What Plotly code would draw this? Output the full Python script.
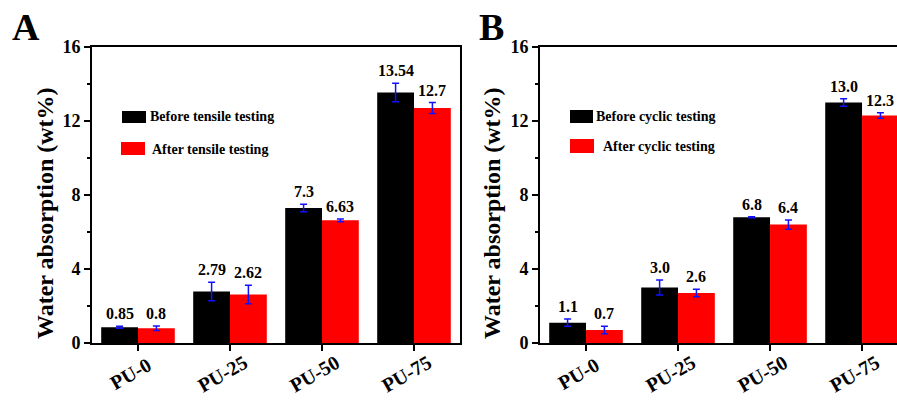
import plotly.graph_objects as go

# ---------------- data ----------------
categories = ["PU-0", "PU-25", "PU-50", "PU-75"]

a_before = [0.85, 2.79, 7.3, 13.54]
a_before_err = [0.05, 0.5, 0.2, 0.5]
a_after = [0.8, 2.62, 6.63, 12.7]
a_after_err = [0.12, 0.5, 0.07, 0.3]
a_before_labels = ["0.85", "2.79", "7.3", "13.54"]
a_after_labels = ["0.8", "2.62", "6.63", "12.7"]

b_before = [1.1, 3.0, 6.8, 13.0]
b_before_err = [0.2, 0.41, 0.03, 0.2]
b_after = [0.7, 2.7, 6.4, 12.3]
b_after_err = [0.2, 0.2, 0.25, 0.15]
b_before_labels = ["1.1", "3.0", "6.8", "13.0"]
b_after_labels = ["0.7", "2.6", "6.4", "12.3"]

legend_a = ["Before tensile testing", "After tensile testing"]
legend_b = ["Before cyclic testing", "After cyclic testing"]
y_title = "Water absorption (wt%)"
y_ticks = [0, 4, 8, 12, 16]

# ---------------- style ----------------
W, H = 897, 403
FONT = "Liberation Serif, Times New Roman, serif"
BLACK = "#000000"
RED = "#ff0000"
ERR = "#1010ff"


def px(x):
    return x / W


def py(y):
    return 1 - y / H


x_dom_a = [92 / W, 460 / W]
x_rng_a = [-0.5, 3.5]
x_dom_b = [540 / W, 1.0]
x_rng_b = [-0.5, 3.38]
y_dom = [60 / H, 356 / H]

fig = go.Figure()

panels = [
    dict(xa="x", ya="y", before=a_before, be=a_before_err, after=a_after, ae=a_after_err,
         bl=a_before_labels, al=a_after_labels, leg=legend_a),
    dict(xa="x2", ya="y2", before=b_before, be=b_before_err, after=b_after, ae=b_after_err,
         bl=b_before_labels, al=b_after_labels, leg=legend_b),
]

for p in panels:
    fig.add_trace(go.Bar(
        x=categories, y=p["before"], name=p["leg"][0], xaxis=p["xa"], yaxis=p["ya"],
        marker=dict(color=BLACK, line=dict(width=0)), offsetgroup="before",
        error_y=dict(type="data", array=p["be"], color=ERR, thickness=1.5, width=3.5),
        showlegend=False,
    ))
    fig.add_trace(go.Bar(
        x=categories, y=p["after"], name=p["leg"][1], xaxis=p["xa"], yaxis=p["ya"],
        marker=dict(color=RED, line=dict(width=0)), offsetgroup="after",
        error_y=dict(type="data", array=p["ae"], color=ERR, thickness=1.5, width=3.5),
        showlegend=False,
    ))

annotations = []
shapes = []
for p in panels:
    xr, yr = p["xa"], p["ya"]
    for i in range(len(categories)):
        annotations.append(dict(
            x=i - 0.2, y=p["before"][i] + p["be"][i], xref=xr, yref=yr,
            text=p["bl"][i], showarrow=False, xanchor="center", yanchor="bottom", yshift=2,
            font=dict(family=FONT, size=16, color="black", weight="bold"),
        ))
        annotations.append(dict(
            x=i + 0.2, y=p["after"][i] + p["ae"][i], xref=xr, yref=yr,
            text=p["al"][i], showarrow=False, xanchor="center", yanchor="bottom", yshift=2,
            font=dict(family=FONT, size=16, color="black", weight="bold"),
        ))
        # rotated category labels centred just below each category tick
        annotations.append(dict(
            x=i, y=0, xref=xr, yref=yr, text=categories[i], showarrow=False,
            xanchor="center", yanchor="middle", xshift=-8, yshift=-31, textangle=-30,
            font=dict(family=FONT, size=20, color="black", weight="bold"),
        ))

# y axis titles
for xc in (45, 492):
    annotations.append(dict(
        x=px(xc), y=py(213), xref="paper", yref="paper", text=y_title, showarrow=False,
        xanchor="center", yanchor="middle", textangle=-90,
        font=dict(family=FONT, size=24, color="black", weight="bold"),
    ))

# panel letters
for letter, xl in (("A", 10), ("B", 477)):
    annotations.append(dict(
        x=px(xl), y=py(27), xref="paper", yref="paper", text=letter, showarrow=False,
        xanchor="left", yanchor="middle",
        font=dict(family=FONT, size=38, color="black", weight="bold"),
    ))

# legends (swatch + text)
legend_geo = [
    # (rect x0, x1, y0, y1, color, text x, text y, label)
    (122, 146, 111, 123, BLACK, 148, 116, legend_a[0]),
    (121, 145, 142, 155, RED, 150, 149, legend_a[1]),
    (570, 593, 110, 123, BLACK, 594, 116, legend_b[0]),
    (570, 594, 139, 153, RED, 601, 146, legend_b[1]),
]
for x0, x1, y0, y1, col, tx, ty, lab in legend_geo:
    shapes.append(dict(type="rect", xref="paper", yref="paper",
                       x0=px(x0), x1=px(x1), y0=py(y1), y1=py(y0),
                       fillcolor=col, line=dict(width=0)))
    annotations.append(dict(
        x=px(tx), y=py(ty), xref="paper", yref="paper", text=lab, showarrow=False,
        xanchor="left", yanchor="middle",
        font=dict(family=FONT, size=14, color="black", weight="bold"),
    ))

common_x = dict(
    type="category", showline=True, linewidth=2, linecolor="black", mirror=True,
    ticks="outside", ticklen=6, tickwidth=2, tickcolor="black", showticklabels=False,
    showgrid=False, zeroline=False, automargin=False,
)
common_y = dict(
    range=[0, 16], tickvals=y_ticks, showline=True, linewidth=2, linecolor="black",
    ticks="outside", ticklen=6, tickwidth=2, tickcolor="black",
    minor=dict(ticks="outside", ticklen=3, tickwidth=2, tickcolor="black", dtick=2, showgrid=False),
    tickfont=dict(family=FONT, size=18, color="black", weight="bold"),
    showgrid=False, zeroline=False, automargin=False,
)

fig.update_layout(
    width=W, height=H, margin=dict(l=0, r=0, t=0, b=0),
    paper_bgcolor="white", plot_bgcolor="white",
    barmode="group", bargap=0.2, bargroupgap=0,
    xaxis=dict(domain=x_dom_a, range=x_rng_a, anchor="y", **common_x),
    yaxis=dict(domain=y_dom, anchor="x", mirror=True, **common_y),
    xaxis2=dict(domain=x_dom_b, range=x_rng_b, anchor="y2", **common_x),
    yaxis2=dict(domain=y_dom, anchor="x2", mirror=False, **common_y),
    annotations=annotations, shapes=shapes, showlegend=False,
)

fig.write_html("out.html")
